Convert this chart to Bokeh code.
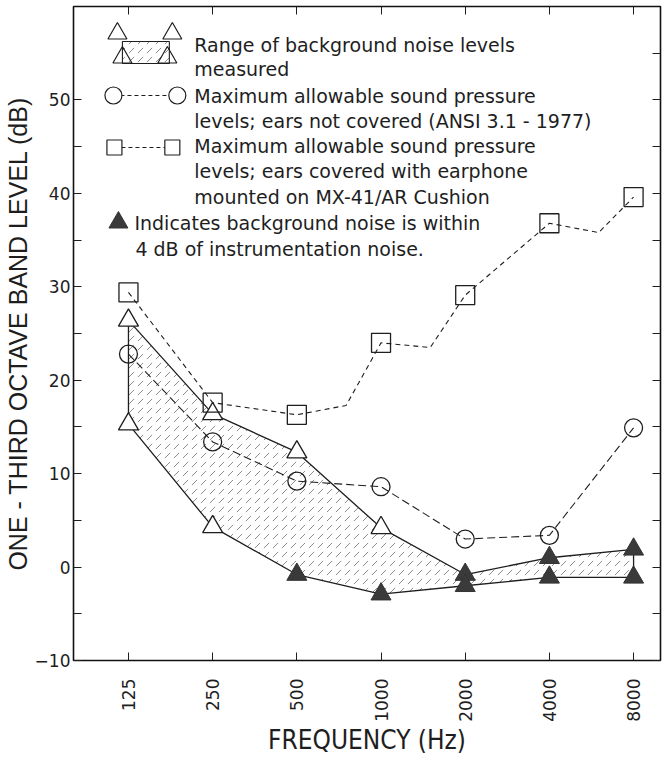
import math
import numpy as np
from bokeh.plotting import figure
from bokeh.models import (FixedTicker, LinearAxis, LogAxis, NumeralTickFormatter,
                          CustomJSTickFormatter, Range1d)
from bokeh.core.properties import value
from bokeh.embed import file_html
from bokeh.resources import INLINE

# ---------------- data ----------------
freqs = [125, 250, 500, 1000, 2000, 4000, 8000]
range_upper = [26.4, 16.4, 12.3, 4.2, -0.8, 1.0, 1.9]
range_lower = [15.3, 4.3, -0.8, -2.9, -2.0, -1.1, -1.1]
upper_near_noise = [False, False, False, False, True, True, True]
lower_near_noise = [False, False, True, True, True, True, True]

uncovered_freqs = [125, 250, 500, 1000, 2000, 4000, 8000]
uncovered_levels = [22.8, 13.4, 9.2, 8.6, 3.0, 3.4, 14.9]

covered_freqs = [125, 250, 500, 750, 1000, 1500, 2000, 4000, 6000, 8000]
covered_levels = [29.4, 17.6, 16.3, 17.3, 24.0, 23.5, 29.1, 36.8, 35.8, 39.6]
covered_marked = [True, True, True, False, True, False, True, True, False, True]

y_major_ticks = [-10, 0, 10, 20, 30, 40, 50]
y_minor_ticks = [-5, 5, 15, 25, 35, 45]
y_right_ticks = [-10, -5, 0, 5, 10, 15, 20, 25, 30, 35, 40, 45, 50, 55]

legend_lines = [
    "Range of background noise levels",
    "measured",
    "Maximum allowable sound pressure",
    "levels; ears not covered (ANSI 3.1 - 1977)",
    "Maximum allowable sound pressure",
    "levels; ears covered with earphone",
    "mounted on MX-41/AR Cushion",
]
note_lines = ["Indicates background noise is within",
              "4 dB of instrumentation noise."]

# ---------------- figure ----------------
X0, X1 = 79.5, 9985.0
Y0, Y1 = -10.0, 60.0
FL, FW, FT, FH = 72, 588, 6, 654   # frame pixel box

p = figure(width=662, height=761, x_axis_type="log",
           x_range=Range1d(X0, X1), y_range=Range1d(Y0, Y1),
           output_backend="svg", toolbar_location=None,
           min_border_left=FL, min_border_right=662 - FL - FW,
           min_border_top=FT, min_border_bottom=761 - FT - FH)
p.xgrid.visible = False
p.ygrid.visible = False
p.outline_line_color = "#111111"
p.outline_line_width = 1.6
p.background_fill_color = "white"
p.border_fill_color = "white"

INK = "#1e1e1e"
TICK_FONT = "DejaVu Sans"

# bottom axis
xa = p.xaxis[0]
xa.ticker = FixedTicker(ticks=freqs, minor_ticks=[])
xa.formatter = NumeralTickFormatter(format="0")
xa.major_label_orientation = math.pi / 2
xa.major_label_text_font = TICK_FONT
xa.major_label_text_font_size = "17px"
xa.major_label_text_color = INK
xa.major_label_standoff = 18
xa.major_tick_in = 8
xa.major_tick_out = 0
xa.minor_tick_in = 0
xa.minor_tick_out = 0
xa.axis_line_color = None
xa.major_tick_line_color = INK
xa.axis_label = "FREQUENCY (Hz)"
xa.axis_label_text_font = "Liberation Sans Narrow, DejaVu Sans Condensed, Liberation Sans"
xa.axis_label_text_font_size = "26px"
xa.axis_label_text_font_style = "normal"
xa.axis_label_text_color = INK
xa.axis_label_standoff = 0

# left axis
ya = p.yaxis[0]
ya.ticker = FixedTicker(ticks=y_major_ticks, minor_ticks=y_minor_ticks)
ya.major_label_text_font = TICK_FONT
ya.major_label_text_font_size = "17px"
ya.major_label_text_color = INK
ya.major_label_standoff = 3
ya.major_tick_in = 8
ya.major_tick_out = 0
ya.minor_tick_in = 8
ya.minor_tick_out = 0
ya.axis_line_color = None
ya.major_tick_line_color = INK
ya.minor_tick_line_color = INK
ya.axis_label = "ONE - THIRD OCTAVE BAND LEVEL (dB)"
ya.axis_label_text_font = "Liberation Sans"
ya.axis_label_text_font_size = "25px"
ya.axis_label_text_font_style = "normal"
ya.axis_label_text_color = INK
ya.axis_label_standoff = 0

blank = CustomJSTickFormatter(code="return ''")
top_axis = LogAxis(ticker=FixedTicker(ticks=freqs, minor_ticks=[]), formatter=blank,
                   major_tick_in=8, major_tick_out=0, minor_tick_in=0, minor_tick_out=0,
                   axis_line_color=None, major_tick_line_color=INK,
                   major_label_standoff=0)
p.add_layout(top_axis, "above")
right_axis = LinearAxis(ticker=FixedTicker(ticks=y_right_ticks, minor_ticks=[]), formatter=blank,
                        major_tick_in=8, major_tick_out=0, minor_tick_in=0, minor_tick_out=0,
                        axis_line_color=None, major_tick_line_color=INK,
                        major_label_standoff=0)
p.add_layout(right_axis, "right")

# ---------------- data glyphs ----------------
HATCH = dict(fill_color="white", hatch_pattern="right_diagonal_dash",
             hatch_color="#555555", hatch_scale=9, hatch_weight=0.8, hatch_alpha=0.85)

band_x = list(freqs) + list(freqs[::-1])
band_y = list(range_upper) + list(range_lower[::-1])
p.patch(band_x, band_y, line_color=INK, line_width=1.3, **HATCH)

p.line(uncovered_freqs, uncovered_levels, line_color=INK, line_width=1.1, line_dash="8 4")
p.line(covered_freqs, covered_levels, line_color=INK, line_width=1.1, line_dash="5 4")

fa = np.array(freqs, dtype=float)
up = np.array(range_upper)
lo = np.array(range_lower)
um = np.array(upper_near_noise)
lm = np.array(lower_near_noise)

open_x = list(fa[~um]) + list(fa[~lm])
open_y = list(up[~um]) + list(lo[~lm])
fill_x = list(fa[um]) + list(fa[lm])
fill_y = list(up[um]) + list(lo[lm])

p.scatter(open_x, open_y, marker="triangle", size=20, line_color=INK, line_width=1.3,
          fill_color="white")
p.scatter(fill_x, fill_y, marker="triangle", size=20, line_color="#333333", line_width=1.0,
          fill_color="#3a3a3a")

p.scatter(uncovered_freqs, uncovered_levels, marker="circle", size=18, line_color=INK,
          line_width=1.3, fill_alpha=0)

cf = np.array(covered_freqs, dtype=float)
cl = np.array(covered_levels)
cm = np.array(covered_marked)
p.scatter(cf[cm], cl[cm], marker="square", size=19, line_color=INK, line_width=1.3,
          fill_alpha=0)

# ---------------- legend (drawn inside the frame) ----------------
def lx(px):
    return X0 * (X1 / X0) ** ((np.asarray(px, dtype=float) - FL) / FW)

def ly(py):
    return Y1 - (np.asarray(py, dtype=float) - FT) * (Y1 - Y0) / FH

p.quad(left=[lx(121)], right=[lx(168)], top=[ly(41)], bottom=[ly(63)],
       line_color=INK, line_width=1.1, **HATCH)
p.scatter(lx([116, 171, 121, 166]), ly([33, 33, 57, 57]), marker="triangle", size=19,
          line_color=INK, line_width=1.2, fill_alpha=0)

p.line(lx([112, 176]), ly([95, 95]), line_color=INK, line_width=1.1, line_dash="4 3")
p.scatter(lx([112, 176]), ly([95, 95]), marker="circle", size=17, line_color=INK,
          line_width=1.2, fill_color="white")

p.line(lx([113, 171]), ly([147, 147]), line_color=INK, line_width=1.1, line_dash="4 3")
p.scatter(lx([113, 171]), ly([147, 147]), marker="square", size=15, line_color=INK,
          line_width=1.2, fill_color="white")

p.scatter(lx([117]), ly([222]), marker="triangle", size=19, line_color="#333333",
          fill_color="#3a3a3a")

text_y = [44, 68, 95, 120, 145, 170, 196]
p.text(x=list(lx([193] * len(legend_lines))), y=list(ly(text_y)), text=legend_lines,
       text_font=value("DejaVu Sans"), text_font_size="19px", text_color=INK,
       text_baseline="middle", text_align="left")
p.text(x=list(lx([133, 134])), y=list(ly([222, 248])), text=note_lines,
       text_font=value("DejaVu Sans"), text_font_size="19px", text_color=INK,
       text_baseline="middle", text_align="left")

open("out.html", "w").write(file_html(p, INLINE))
